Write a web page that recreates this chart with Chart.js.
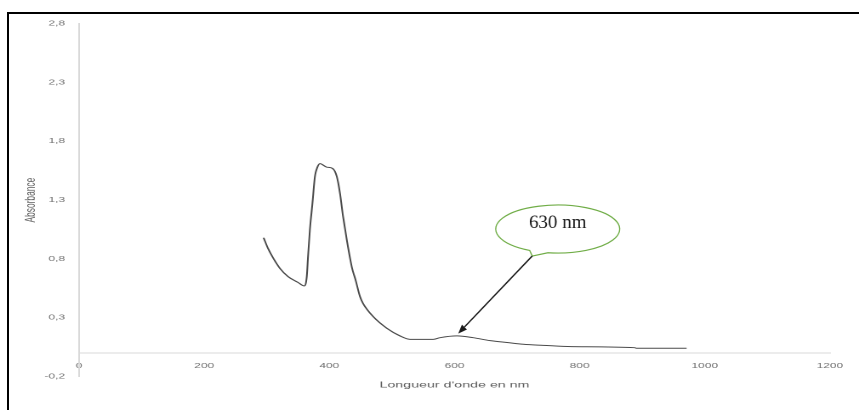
<!DOCTYPE html>
<html>
<head>
<meta charset="utf-8">
<title>Absorbance</title>
<script src="https://cdn.jsdelivr.net/npm/chart.js@4.4.1/dist/chart.umd.min.js"></script>
<style>
  html, body { margin: 0; padding: 0; background: #fff; width: 859px; height: 410px; overflow: hidden; }
  .frame { position: absolute; left: 7px; top: 12px; width: 900px; height: 450px; border: 2px solid #000; box-sizing: border-box; }
  /* the original picture is a chart stretched sideways */
  .stretch { position: absolute; left: 0; top: 0; width: 505px; height: 410px; transform: scaleX(1.701); transform-origin: 0 0; }
</style>
</head>
<body>
<div class="frame"></div>
<div class="stretch"><canvas id="spectrumChart"></canvas></div>
<script>
var STRETCH = 859 / 505;

// spectrum
var wavelengths = [295, 302, 310, 321, 334, 350, 360, 364, 366, 369, 373, 377, 381, 385, 396, 405, 412, 417, 422, 428,
  436, 442, 449, 454, 470, 492, 513, 529, 566, 577, 604, 630, 657, 686, 710, 742, 787, 888, 891, 971];
var absorbance = [0.98, 0.89, 0.81, 0.72, 0.65, 0.60, 0.57, 0.65, 0.82, 1.05, 1.27, 1.50, 1.58, 1.61, 1.58, 1.57, 1.50, 1.36, 1.16, 0.96,
  0.73, 0.62, 0.48, 0.42, 0.31, 0.21, 0.145, 0.116, 0.116, 0.13, 0.145, 0.13, 0.105, 0.088, 0.074, 0.065, 0.054, 0.045, 0.040, 0.040];

var xTickValues = [0, 200, 400, 600, 800, 1000, 1200];
var xTickLabels = ['0', '200', '400', '600', '800', '1000', '1200'];
var yTickValues = [-0.2, 0.3, 0.8, 1.3, 1.8, 2.3, 2.8];
var yTickLabels = ['-0,2', '0,3', '0,8', '1,3', '1,8', '2,3', '2,8'];

// callout: text, where the bubble sits and where the arrow points (data units)
var calloutText = '630 nm';
var calloutBubble = [765, 1.054];
var calloutTarget = [606, 0.165];

var points = wavelengths.map(function (w, i) {
  return { x: w, y: absorbance[i] };
});

var calloutPlugin = {
  id: 'callout',
  afterDatasetsDraw: function (chart) {
    var ctx = chart.ctx;
    var xs = chart.scales.x, ys = chart.scales.y;
    var bx = xs.getPixelForValue(calloutBubble[0]) * STRETCH;
    var by = ys.getPixelForValue(calloutBubble[1]);
    var tx = xs.getPixelForValue(calloutTarget[0]) * STRETCH;
    var ty = ys.getPixelForValue(calloutTarget[1]);

    ctx.save();
    // undo the sideways stretch so the callout keeps its own shape
    ctx.scale(1 / STRETCH, 1);

    // oval bubble with a small wedge underneath
    var px = bx - 25.5, py = by + 27;
    ctx.beginPath();
    ctx.ellipse(bx, by, 62, 24, 0, 2.04, 1.73 + Math.PI * 2);
    ctx.lineTo(px, py);
    ctx.closePath();
    ctx.fillStyle = '#fff';
    ctx.fill();
    ctx.strokeStyle = '#70ad47';
    ctx.lineWidth = 1.2;
    ctx.stroke();

    ctx.fillStyle = '#1a1a1a';
    ctx.font = '19px "Liberation Serif", "Times New Roman", serif';
    ctx.textAlign = 'center';
    ctx.textBaseline = 'middle';
    ctx.fillText(calloutText, bx, by - 6);

    // arrow
    var ang = Math.atan2(ty - py, tx - px);
    var head = 9, half = 3.5;
    var baseX = tx - Math.cos(ang) * head, baseY = ty - Math.sin(ang) * head;
    ctx.strokeStyle = '#1a1a1a';
    ctx.lineWidth = 1.4;
    ctx.beginPath();
    ctx.moveTo(px, py);
    ctx.lineTo(baseX, baseY);
    ctx.stroke();
    ctx.beginPath();
    ctx.moveTo(tx, ty);
    ctx.lineTo(baseX + Math.sin(ang) * half, baseY - Math.cos(ang) * half);
    ctx.lineTo(baseX - Math.sin(ang) * half, baseY + Math.cos(ang) * half);
    ctx.closePath();
    ctx.fill();
    ctx.restore();
  }
};

var tickFont = { family: '"Liberation Sans", Arial, sans-serif', size: 7 };
var titleFont = { family: '"Liberation Sans", Arial, sans-serif', size: 8.4 };

var ctx = document.getElementById('spectrumChart').getContext('2d');
var spectrumChart = new Chart(ctx, {
  type: 'line',
  data: {
    datasets: [{
      label: 'Absorbance',
      data: points,
      borderColor: '#4a4a4a',
      borderWidth: 1,
      pointRadius: 0,
      fill: false,
      cubicInterpolationMode: 'monotone'
    }]
  },
  options: {
    responsive: true,
    maintainAspectRatio: false,
    devicePixelRatio: 2,
    animation: false,
    layout: { padding: { left: 0, top: 23.7, right: 17.1, bottom: 33.5 } },
    plugins: {
      legend: { display: false },
      tooltip: { enabled: false }
    },
    scales: {
      x: {
        type: 'linear',
        min: 0,
        max: 1200,
        position: { y: 0 },
        afterBuildTicks: function (scale) {
          scale.ticks = xTickValues.map(function (v) { return { value: v }; });
        },
        afterFit: function (scale) { scale.height = 33.5; },
        grid: { display: false, drawTicks: false },
        border: { display: true, color: '#d9d9d9', width: 1 },
        ticks: {
          font: tickFont,
          color: '#707070',
          padding: 8.8,
          maxRotation: 0,
          autoSkip: false,
          callback: function (value, index) { return xTickLabels[index]; }
        },
        title: {
          display: true,
          text: "Longueur d'onde en nm",
          color: '#5f5f5f',
          font: { family: titleFont.family, size: titleFont.size, lineHeight: 0.35 },
          padding: 0
        }
      },
      y: {
        type: 'linear',
        min: -0.2,
        max: 2.8,
        position: 'left',
        afterBuildTicks: function (scale) {
          scale.ticks = yTickValues.map(function (v) { return { value: v }; });
        },
        afterFit: function (scale) { scale.width = 46.44; },
        grid: { display: false, drawTicks: false },
        border: { display: true, color: '#d9d9d9', width: 1 },
        ticks: {
          font: tickFont,
          color: '#707070',
          padding: 8.2,
          callback: function (value, index) { return yTickLabels[index]; }
        },
        title: {
          display: true,
          text: 'Absorbance',
          color: '#5f5f5f',
          font: titleFont,
          padding: { top: 12.9, bottom: 0 }
        }
      }
    }
  },
  plugins: [calloutPlugin]
});
</script>
</body>
</html>
